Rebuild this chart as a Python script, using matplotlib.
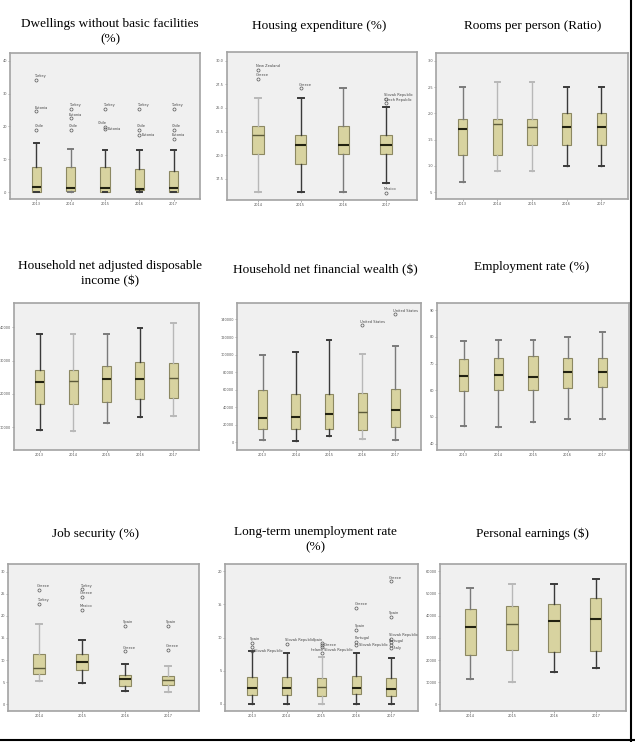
"""
OECD Better Life 指标箱线图 3x3
"""
import matplotlib
matplotlib.use('Agg')
import matplotlib.pyplot as plt
from matplotlib.lines import Line2D

# ---------------- 数据 ----------------
# 每个箱子: [下须, Q1, 中位数, Q3, 上须]
years5 = ['2013', '2014', '2015', '2016', '2017']
years4 = ['2014', '2015', '2016', '2017']

dwell_stats = [[0.0, 0.2, 1.7, 7.6, 15.0],
               [0.0, 0.3, 1.4, 7.6, 13.2],
               [0.0, 0.2, 1.4, 7.6, 12.8],
               [0.0, 0.6, 1.0, 7.0, 12.8],
               [0.0, 0.2, 1.2, 6.4, 12.8]]
dwell_out = [(1, 19.0, 'Chile'), (1, 24.6, 'Estonia'), (1, 34.2, 'Turkey'),
             (2, 19.0, 'Chile'), (2, 22.5, 'Estonia'), (2, 25.4, 'Turkey'),
             (3, 19.9, 'Chile'), (3, 19.2, 'Estonia'), (3, 25.4, 'Turkey'),
             (4, 19.0, 'Chile'), (4, 17.4, 'Estonia'), (4, 25.4, 'Turkey'),
             (5, 19.0, 'Chile'), (5, 16.3, 'Estonia'), (5, 25.4, 'Turkey')]

housing_stats = [[16.05, 20.1, 22.1, 23.1, 26.1],
                 [16.05, 19.06, 21.1, 22.1, 26.1],
                 [16.05, 20.1, 21.1, 23.1, 27.1],
                 [17.04, 20.1, 21.1, 22.1, 25.1]]
housing_out = [(1, 28.1, 'Greece'), (1, 29.06, 'New Zealand'),
               (2, 27.1, 'Greece'),
               (4, 26.0, 'Slovak Republic'), (4, 25.5, 'Czech Republic'),
               (4, 16.0, 'Mexico')]

rooms_stats = [[0.70, 1.20, 1.70, 1.90, 2.50],
               [0.90, 1.20, 1.80, 1.90, 2.60],
               [0.90, 1.40, 1.75, 1.90, 2.60],
               [1.00, 1.40, 1.75, 2.00, 2.50],
               [1.00, 1.40, 1.75, 2.00, 2.50]]

income_stats = [[9000, 16800, 23400, 27300, 37900],
                [8900, 16800, 23800, 27200, 37900],
                [11300, 17500, 24300, 28500, 38100],
                [12900, 18300, 24400, 29500, 39700],
                [13200, 18800, 24800, 29400, 41400]]

wealth_stats = [[2270, 15100, 28000, 59700, 99000],
                [1900, 15100, 28700, 54800, 102500],
                [7200, 14700, 32100, 55600, 116400],
                [3800, 14000, 34400, 56300, 101000],
                [3000, 17400, 37400, 60500, 109300]]
wealth_out = [(4, 133500, 'United States'), (5, 146000, 'United States')]

employ_stats = [[46.6, 59.9, 65.5, 71.9, 78.6],
                [46.25, 60.1, 65.6, 72.1, 78.9],
                [48.25, 60.1, 65.1, 73.0, 78.9],
                [49.25, 61.0, 67.0, 72.1, 80.1],
                [49.25, 61.1, 67.0, 72.1, 81.9]]

jobsec_stats = [[5.3, 6.9, 8.2, 11.4, 18.2],
                [4.8, 7.8, 9.6, 11.4, 14.6],
                [3.0, 4.2, 5.7, 6.6, 9.2],
                [2.7, 4.4, 5.4, 6.4, 8.7]]
jobsec_out = [(1, 25.9, 'Greece'), (1, 22.7, 'Turkey'),
              (2, 26.0, 'Turkey'), (2, 24.3, 'Greece'), (2, 21.4, 'Mexico'),
              (3, 17.7, 'Spain'), (3, 12.0, 'Greece'),
              (4, 17.7, 'Spain'), (4, 12.3, 'Greece')]

ltu_stats = [[0.0, 1.26, 2.37, 4.04, 7.9],
             [0.0, 1.26, 2.3, 4.04, 7.7],
             [0.0, 1.2, 2.6, 3.9, 7.1],
             [0.0, 1.4, 2.3, 4.2, 7.7],
             [0.0, 1.2, 2.2, 3.9, 6.9]]
ltu_out = [(1, 9.2, 'Spain'), (1, 8.6, ''), (1, 8.0, 'Slovak Republic'),
           (2, 9.0, 'Slovak Republic'),
           (3, 9.1, 'Spain'), (3, 8.8, 'Greece'), (3, 8.6, 'Slovak Republic'), (3, 7.6, 'Ireland'),
           (4, 14.5, 'Greece'), (4, 11.2, 'Spain'), (4, 9.3, 'Portugal'), (4, 8.9, 'Slovak Republic'),
           (5, 18.5, 'Greece'), (5, 13.1, 'Spain'), (5, 9.8, 'Slovak Republic'), (5, 9.3, ''),
           (5, 8.9, 'Portugal'), (5, 8.4, 'Italy')]

earn_stats = [[11300, 22400, 34700, 42900, 52700],
              [10000, 24300, 36100, 44300, 54500],
              [14700, 23400, 37500, 45300, 54200],
              [16200, 23900, 38400, 48000, 56500]]

# ---------------- 样式 ----------------
BOX_FACE = '#d8d3a0'
BOX_EDGE = '#8c8862'
AX_FACE = '#f0f0f0'
DARK = '#3a3a3a'
LIGHT = '#b8b8b8'
MID = '#7a7a7a'

# 标签摆放位置: 'l' 左上, 'rb' 右侧居中, 'rl' 右下, 默认右上
dwell_side = {(3, 'Chile'): 'l', (3, 'Estonia'): 'rb', (4, 'Estonia'): 'rb'}
ltu_side = {(3, 'Spain'): 'l', (3, 'Greece'): 'rb', (3, 'Slovak Republic'): 'rl',
            (3, 'Ireland'): 'l',
            (4, 'Slovak Republic'): 'rb', (1, 'Slovak Republic'): 'rb',
            (5, 'Italy'): 'rb', (5, 'Portugal'): 'r'}


def draw_panel(fig, rect, stats, years, outliers, yticks, ylabels, ylim, shades,
               title, title_xy, side=None):
    """
    绘制单个箱线图面板
    """
    side = side or {}
    ax = fig.add_axes(rect)
    ax.set_facecolor(AX_FACE)
    n = len(stats)
    positions = list(range(1, n + 1))
    bxp_stats = []
    for i, s in enumerate(stats):
        fl = [v for (k, v, name) in outliers if k == i + 1]
        bxp_stats.append(dict(whislo=s[0], q1=s[1], med=s[2], q3=s[3], whishi=s[4], fliers=fl))
    res = ax.bxp(bxp_stats, positions=positions, widths=0.27, capwidths=0.14,
                 patch_artist=True, showfliers=True,
                 boxprops=dict(facecolor=BOX_FACE, edgecolor=BOX_EDGE, linewidth=0.8),
                 flierprops=dict(marker='o', markersize=2.2, markerfacecolor='none',
                                 markeredgecolor='#555555', markeredgewidth=0.5))
    for i in range(n):
        c = shades[i]
        for art in (res['whiskers'][2 * i], res['whiskers'][2 * i + 1],
                    res['caps'][2 * i], res['caps'][2 * i + 1]):
            art.set_color(c)
            art.set_linewidth(1.0)
        res['caps'][2 * i].set_linewidth(1.4)
        res['caps'][2 * i + 1].set_linewidth(1.4)
        res['medians'][i].set_color('#222211' if c != LIGHT else '#5c5a3a')
        res['medians'][i].set_linewidth(1.5 if c != LIGHT else 1.0)

    # 异常值标签
    for (k, v, name) in outliers:
        if not name:
            continue
        pos = side.get((k, name), 'r')
        if pos == 'l':
            ax.annotate(name, (k, v), xytext=(1.0, 1.2), textcoords='offset points',
                        fontsize=2.6, color='#444444', ha='right', va='bottom')
        elif pos == 'rb':
            ax.annotate(name, (k, v), xytext=(1.8, 0), textcoords='offset points',
                        fontsize=2.6, color='#444444', ha='left', va='center')
        elif pos == 'rl':
            ax.annotate(name, (k, v), xytext=(1.8, -0.6), textcoords='offset points',
                        fontsize=2.6, color='#444444', ha='left', va='top')
        else:
            ax.annotate(name, (k, v), xytext=(-1.5, 1.2), textcoords='offset points',
                        fontsize=2.6, color='#444444', ha='left', va='bottom')

    if n == 5:
        ax.set_xlim(0.23, n + 0.77)
    else:
        ax.set_xlim(0.28, n + 0.72)
    ax.set_ylim(*ylim)
    ax.set_xticks(positions)
    ax.set_xticklabels(years)
    ax.set_yticks(yticks)
    ax.set_yticklabels(ylabels)
    ax.tick_params(labelsize=2.5, labelcolor='#555555', length=1.2, width=0.4,
                   color='#777777', pad=1.0)
    for sp in ax.spines.values():
        sp.set_color('#a3a3a3')
        sp.set_linewidth(1.2)

    fig.text(title_xy[0] / 635, 1 - title_xy[1] / 742, title, ha='center', va='center',
             fontsize=9.5, family='Liberation Serif', linespacing=1.35)
    return ax


fig = plt.figure(figsize=(6.35, 7.42), dpi=100)
fig.patch.set_facecolor('white')


def rect(x0, x1, y0, y1):
    return [x0 / 635, 1 - y1 / 742, (x1 - x0) / 635, (y1 - y0) / 742]


draw_panel(fig, rect(10, 200, 53, 199), dwell_stats, years5, dwell_out,
           [0, 10, 20, 30, 40], ['.0', '10', '20', '30', '40'], (-2.0, 42.3),
           [DARK, MID, DARK, DARK, DARK],
           'Dwellings without basic facilities\n(%)', (110, 32), dwell_side)

draw_panel(fig, rect(227, 417, 52, 200), housing_stats, years4, housing_out,
           [17.5, 20.0, 22.5, 25.0, 27.5, 30.0], ['17.5', '20.0', '22.5', '25.0', '27.5', '30.0'],
           (15.23, 30.94), [LIGHT, DARK, MID, DARK],
           'Housing expenditure (%)', (319, 26))

draw_panel(fig, rect(436, 628, 53, 199), rooms_stats, years5, [],
           [0.5, 1.0, 1.5, 2.0, 2.5, 3.0], ['.5', '1.0', '1.5', '2.0', '2.5', '3.0'],
           (0.37, 3.15), [MID, LIGHT, LIGHT, DARK, DARK],
           'Rooms per person (Ratio)', (533, 26))

draw_panel(fig, rect(14, 199, 303, 450), income_stats, years5, [],
           [10000, 20000, 30000, 40000], ['10000', '20000', '30000', '40000'],
           (3100, 47300), [DARK, LIGHT, MID, DARK, LIGHT],
           'Household net adjusted disposable\nincome ($)', (110, 274))

draw_panel(fig, rect(237, 421, 303, 450), wealth_stats, years5, wealth_out,
           list(range(0, 140001, 20000)),
           ['0', '20000', '40000', '60000', '80000', '100000', '120000', '140000'],
           (-8700, 158800), [MID, DARK, DARK, LIGHT, MID],
           'Household net financial wealth ($)', (325, 270))

draw_panel(fig, rect(437, 629, 303, 450), employ_stats, years5, [],
           [40, 50, 60, 70, 80, 90], ['40', '50', '60', '70', '80', '90'],
           (37.6, 92.75), [MID, MID, MID, MID, MID],
           'Employment rate (%)', (532, 267))

draw_panel(fig, rect(8, 199, 564, 711), jobsec_stats, years4, jobsec_out,
           [0, 5, 10, 15, 20, 25, 30], ['0', '5', '10', '15', '20', '25', '30'],
           (-1.5, 31.7), [LIGHT, DARK, DARK, LIGHT],
           'Job security (%)', (96, 534))

draw_panel(fig, rect(225, 418, 564, 711), ltu_stats, years5, ltu_out,
           [0, 5, 10, 15, 20], ['0', '5', '10', '15', '20'],
           (-1.1, 21.1), [DARK, DARK, LIGHT, DARK, DARK],
           'Long-term unemployment rate\n(%)', (315, 540), ltu_side)

draw_panel(fig, rect(440, 626, 564, 711), earn_stats, years4, [],
           list(range(0, 60001, 10000)),
           ['0', '10000', '20000', '30000', '40000', '50000', '60000'],
           (-3000, 63300), [MID, LIGHT, DARK, DARK],
           'Personal earnings ($)', (533, 534))

# 表格边框线
fig.add_artist(Line2D([631 / 635, 631 / 635], [0, 1], color='black', linewidth=1.5))
fig.add_artist(Line2D([0, 1], [2.5 / 742, 2.5 / 742], color='black', linewidth=1.5))

plt.savefig('out.png', dpi=100)
